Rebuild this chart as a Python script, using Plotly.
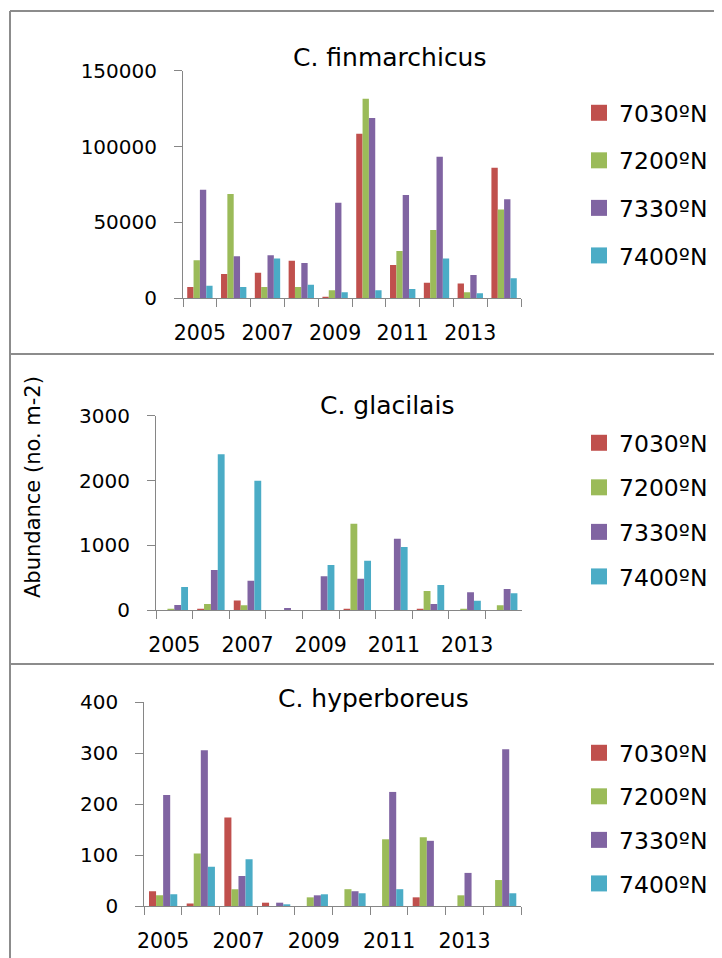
import plotly.graph_objects as go

# ---------------- data ----------------
years = ["2005", "2006", "2007", "2008", "2009", "2010", "2011", "2012", "2013", "2014"]
tick_text = ["2005", "", "2007", "", "2009", "", "2011", "", "2013", ""]
stations = ["7030ºN", "7200ºN", "7330ºN", "7400ºN"]
colors = ["#C0504D", "#9BBB59", "#8064A2", "#4BACC6"]

# C. finmarchicus
fin_7030 = [7500, 16000, 16900, 24800, 1100, 108500, 22000, 10300, 9700, 86100]
fin_7200 = [25000, 68700, 7500, 7500, 5300, 131500, 31200, 45000, 4000, 58600]
fin_7330 = [71600, 27700, 28300, 23300, 63000, 118800, 68100, 93300, 15400, 65200]
fin_7400 = [8300, 7500, 26300, 9000, 4000, 5300, 6100, 26300, 3300, 13200]

# C. glacilais
gla_7030 = [0, 20, 150, 0, 0, 20, 0, 20, 0, 0]
gla_7200 = [15, 98, 77, 0, 0, 1336, 0, 298, 15, 77]
gla_7330 = [82, 622, 457, 36, 524, 488, 1104, 98, 277, 329]
gla_7400 = [360, 2404, 1998, 0, 699, 765, 976, 390, 149, 262]

# C. hyperboreus
hyp_7030 = [29, 5, 174, 6.5, 0, 0, 0, 17, 0, 0]
hyp_7200 = [21, 103, 33, 0, 17, 33, 131, 135, 21, 51]
hyp_7330 = [218, 306, 59, 6.5, 21, 29, 224, 128, 65, 308]
hyp_7400 = [23, 77, 92, 2.6, 23, 25, 33, 0, 0, 25]

panels = [
    ("C. finmarchicus", [fin_7030, fin_7200, fin_7330, fin_7400], 150000, 50000),
    ("C. glacilais", [gla_7030, gla_7200, gla_7330, gla_7400], 3000, 1000),
    ("C. hyperboreus", [hyp_7030, hyp_7200, hyp_7330, hyp_7400], 400, 100),
]

# ---------------- layout geometry (pixels of the page) ----------------
OFF = 8            # browser body margin
W, H = 714, 950    # figure size


def fx(p):
    return (p - OFF) / W


def fy(p):
    return 1 - (p - OFF) / H


# plot areas: (left, right, top, bottom) in page pixels
areas = [(183, 521, 70.7, 298.3), (156, 522, 415.7, 610.3), (144.3, 521, 702.3, 906)]
title_pos = [(390, 57), (387, 405), (373, 698)]
legend_top = [91, 421, 731]
legend_gap = [14, 11, 10]

FONT = "DejaVu Sans"
AX_COL = "#868686"

fig = go.Figure()
layout = dict(
    template="none",
    width=W, height=H, autosize=False,
    margin=dict(l=0, r=0, t=0, b=0, pad=0),
    paper_bgcolor="white", plot_bgcolor="white",
    barmode="group", bargap=0.25, bargroupgap=0,
    showlegend=True,
    font=dict(family=FONT, size=20, color="#000000"),
    annotations=[], shapes=[],
)

for i, (title, series, ymax, dtick) in enumerate(panels):
    n = "" if i == 0 else str(i + 1)
    xa, ya = "x" + n, "y" + n
    lg = "legend" + n
    for s, (name, col, vals) in enumerate(zip(stations, colors, series)):
        fig.add_trace(go.Bar(
            x=years, y=vals, name=name, marker=dict(color=col, line=dict(width=0)),
            xaxis=xa, yaxis=ya, showlegend=False, offsetgroup=str(s),
        ))
        # legend proxy (square marker)
        fig.add_trace(go.Scatter(
            x=[None], y=[None], mode="markers", name=name,
            marker=dict(symbol="square", size=17, color=col),
            xaxis=xa, yaxis=ya, legend=lg, legendgroup=f"{i}_{s}", showlegend=True,
        ))
    l, r, t, b = areas[i]
    layout["xaxis" + n] = dict(
        domain=[fx(l), fx(r)], anchor=ya, type="category",
        tickvals=years, ticktext=tick_text, tickson="boundaries", tickangle=0,
        ticks="outside", ticklen=8, tickcolor=AX_COL, showline=True, linecolor=AX_COL,
        linewidth=1, showgrid=False, zeroline=False, automargin=False,
        tickfont=dict(family=FONT, size=20.5), ticklabelstandoff=16, range=[-0.5, 9.5],
    )
    layout["yaxis" + n] = dict(
        domain=[fy(b), fy(t)], anchor=xa, range=[0, ymax], dtick=dtick,
        tickformat="d", ticks="outside", ticklen=8, tickcolor=AX_COL,
        showline=True, linecolor=AX_COL, linewidth=1, showgrid=False, zeroline=False,
        automargin=False, tickfont=dict(family=FONT, size=20), ticklabelstandoff=13,
    )
    layout[lg] = dict(
        x=fx(579), y=fy(legend_top[i]), xanchor="left", yanchor="top",
        traceorder="grouped", tracegroupgap=legend_gap[i], itemsizing="trace",
        font=dict(family=FONT, size=23.5), bgcolor="rgba(0,0,0,0)", borderwidth=0,
    )
    tx, ty = title_pos[i]
    layout["annotations"].append(dict(
        text=title, x=fx(tx), y=fy(ty), xref="paper", yref="paper",
        showarrow=False, xanchor="center", yanchor="middle",
        font=dict(family=FONT, size=25),
    ))

# y-axis title
layout["annotations"].append(dict(
    text="Abundance (no. m-2)", x=fx(33), y=fy(487), xref="paper", yref="paper",
    showarrow=False, textangle=-90, xanchor="center", yanchor="middle",
    font=dict(family=FONT, size=21),
))

# panel borders
for yy in [11, 354, 664]:
    layout["shapes"].append(dict(type="line", xref="paper", yref="paper",
                                 x0=fx(10), x1=1, y0=fy(yy), y1=fy(yy),
                                 line=dict(color="#8C8C8C", width=2)))
layout["shapes"].append(dict(type="line", xref="paper", yref="paper",
                             x0=fx(10), x1=fx(10), y0=fy(11), y1=0,
                             line=dict(color="#8C8C8C", width=2)))

fig.update_layout(**layout)
fig.write_html("out.html")
